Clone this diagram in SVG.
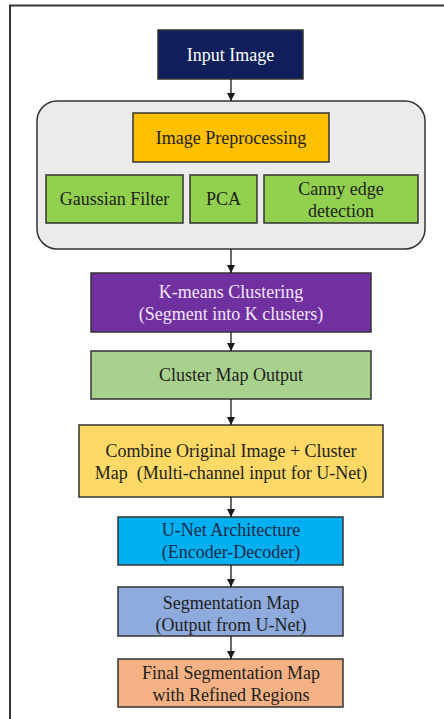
<svg xmlns="http://www.w3.org/2000/svg" width="444" height="719" viewBox="0 0 444 719">
  <defs>
    <marker id="arrow" viewBox="0 0 10 10" refX="10" refY="5" markerWidth="8" markerHeight="9" markerUnits="userSpaceOnUse" orient="auto">
      <path d="M0,0 L10,5 L0,10 Z" fill="#1a1a1a"/>
    </marker>
    <style>
      .box { stroke: #333; stroke-width: 1.5; }
      .t { font-family: "Liberation Serif", "Times New Roman", serif; font-size: 18px; text-anchor: middle; fill: #1e1e1e; }
      .light { fill: #ffffff; }
      .lav { fill: #f0e6f8; }
      .navy { fill: #1c2a4a; }
      .edge { stroke: #1a1a1a; stroke-width: 1.3; fill: none; marker-end: url(#arrow); }
    </style>
  </defs>

  <rect width="444" height="719" fill="#ffffff"/>
  <!-- page frame -->
  <rect x="10" y="5.5" width="460" height="740" fill="none" stroke="#333" stroke-width="2"/>

  <g id="input-image">
    <rect class="box" x="158" y="30" width="145" height="49" fill="#0e1f5b"/>
    <text class="t light" x="230.5" y="61">Input Image</text>
  </g>

  <g id="preprocessing-group">
    <rect x="37" y="101" width="388" height="148" rx="20" ry="20" fill="#ebebeb" stroke="#333" stroke-width="1.5"/>
  </g>

  <g id="image-preprocessing">
    <rect class="box" x="133" y="113" width="196" height="49" fill="#ffc000"/>
    <text class="t" x="231" y="144">Image Preprocessing</text>
  </g>

  <g id="gaussian-filter">
    <rect class="box" x="46" y="175" width="137" height="48" fill="#92d050"/>
    <text class="t" x="114.5" y="205">Gaussian Filter</text>
  </g>

  <g id="pca">
    <rect class="box" x="190" y="175" width="67" height="48" fill="#92d050"/>
    <text class="t" x="223.5" y="205">PCA</text>
  </g>

  <g id="canny-edge">
    <rect class="box" x="264" y="175" width="154" height="48" fill="#92d050"/>
    <text class="t" x="341" y="195">Canny edge</text>
    <text class="t" x="341" y="217">detection</text>
  </g>

  <g id="kmeans">
    <rect class="box" x="91" y="273" width="280" height="59" fill="#7030a0"/>
    <text class="t lav" x="231" y="298">K-means Clustering</text>
    <text class="t lav" x="231" y="320">(Segment into K clusters)</text>
  </g>

  <g id="cluster-map">
    <rect class="box" x="91" y="351" width="280" height="48" fill="#a9d18e"/>
    <text class="t" x="231" y="381">Cluster Map Output</text>
  </g>

  <g id="combine">
    <rect class="box" x="79" y="425" width="304" height="72" fill="#ffd966"/>
    <text class="t" x="231" y="457">Combine Original Image + Cluster</text>
    <text class="t" x="231" y="479" xml:space="preserve">Map  (Multi-channel input for U-Net)</text>
  </g>

  <g id="unet">
    <rect class="box" x="118" y="517" width="225" height="48" fill="#00b0f0"/>
    <text class="t navy" x="231" y="536">U-Net Architecture</text>
    <text class="t navy" x="231" y="558">(Encoder-Decoder)</text>
  </g>

  <g id="segmentation-map">
    <rect class="box" x="118" y="587" width="225" height="49" fill="#8faadc"/>
    <text class="t" x="231" y="609">Segmentation Map</text>
    <text class="t" x="231" y="631">(Output from U-Net)</text>
  </g>

  <g id="final-map">
    <rect class="box" x="118" y="659" width="225" height="48" fill="#f4b183"/>
    <text class="t" x="231" y="679">Final Segmentation Map</text>
    <text class="t" x="231" y="701">with Refined Regions</text>
  </g>

  <g id="connectors">
    <line class="edge" x1="231" y1="79" x2="231" y2="101"/>
    <line class="edge" x1="231" y1="249" x2="231" y2="273"/>
    <line class="edge" x1="231" y1="332" x2="231" y2="351"/>
    <line class="edge" x1="231" y1="399" x2="231" y2="425"/>
    <line class="edge" x1="231" y1="497" x2="231" y2="517"/>
    <line class="edge" x1="231" y1="565" x2="231" y2="587"/>
    <line class="edge" x1="231" y1="636" x2="231" y2="659"/>
  </g>
</svg>
